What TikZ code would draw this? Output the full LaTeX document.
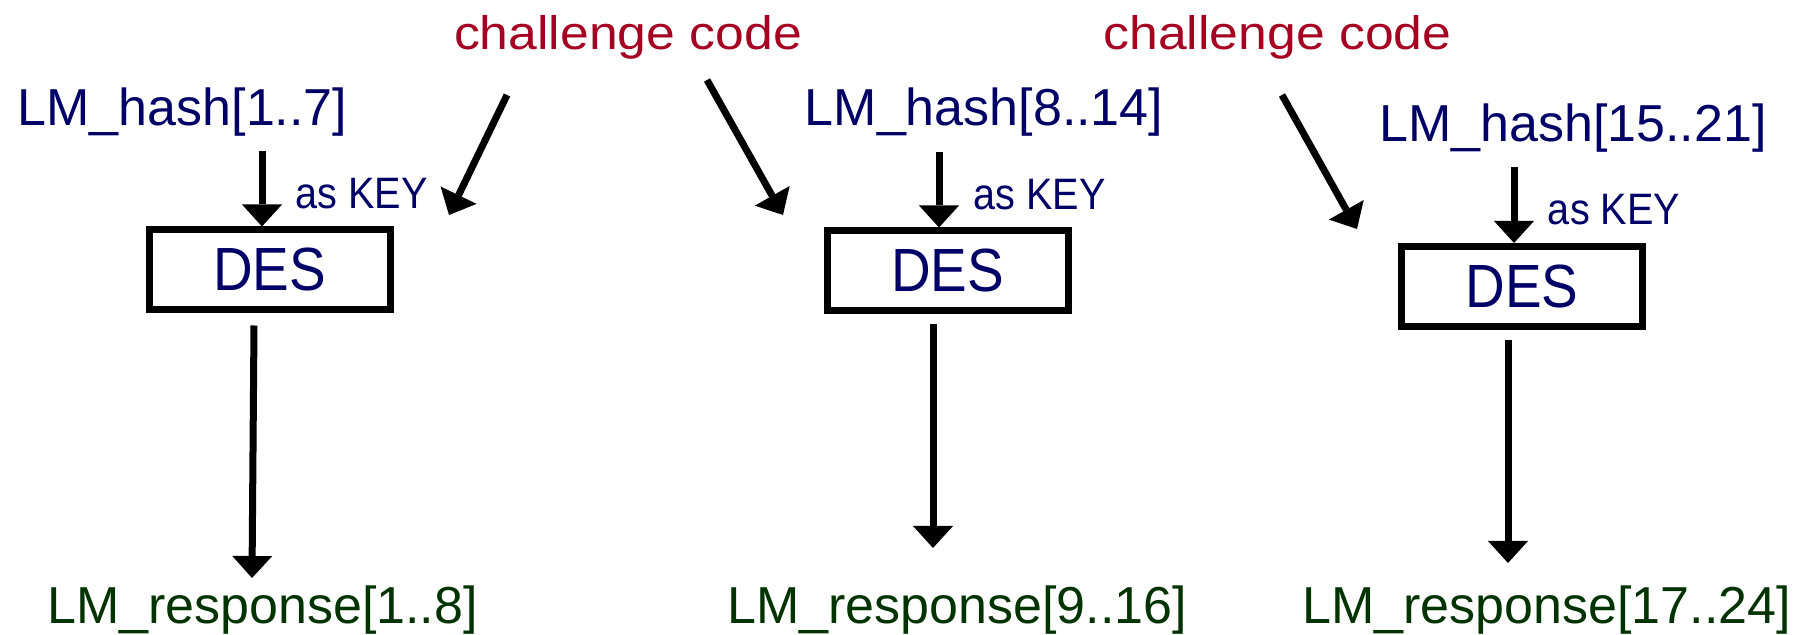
\documentclass[tikz,border=0pt]{standalone}
\usepackage{fontspec}
\setmainfont{Liberation Sans}
\newfontfamily\widefont[FakeStretch=1.1]{Liberation Sans}
\newfontfamily\narrowfont[FakeStretch=0.9]{Liberation Sans}
\usepackage{xcolor}
\usepackage{tikz}
\usetikzlibrary{arrows.meta,calc}
\definecolor{keyblue}{RGB}{0,0,102}
\definecolor{chalred}{RGB}{165,0,33}
\definecolor{respgreen}{RGB}{0,51,0}
\tikzset{
  hashtext/.style={anchor=base,inner sep=0pt,text=keyblue,font=\fontsize{26}{30}\selectfont},
  resptext/.style={anchor=base,inner sep=0pt,text=respgreen,font=\fontsize{26}{30}\selectfont},
  chaltext/.style={anchor=base,inner sep=0pt,text=chalred,font=\widefont\fontsize{23.5}{28}\selectfont},
  keytext/.style={anchor=base,inner sep=0pt,text=keyblue,font=\narrowfont\fontsize{22}{25}\selectfont},
  desbox/.style={draw,line width=3.5pt,minimum width=120.5pt,minimum height=40pt,inner sep=0pt,
    text=keyblue,font=\narrowfont\fontsize{30.5}{34}\selectfont},
  arr/.style={line width=3.5pt,-{Triangle[width=20pt,length=11pt,line width=0pt]}}
}

\begin{document}
\begin{tikzpicture}[x=0.5pt,y=-0.5pt]
    \useasboundingbox (0,0) rectangle (1809,635);

    \node [chaltext] (chal1) at (628,50) {challenge code};
    \node [chaltext] (chal2) at (1277.5,50) {challenge code};

    \node [hashtext] (hash1) at (182.5,126) {LM\_hash[1..7]};
    \node [hashtext] (hash2) at (984,126) {LM\_hash[8..14]};
    \node [hashtext] (hash3) at (1573,142) {LM\_hash[15..21]};

    \node [desbox] (des1) at (269.5,270) {DES};
    \node [desbox] (des2) at (947.5,271) {DES};
    \node [desbox] (des3) at (1522,286.5) {DES};

    \node [keytext] (key1) at ($(des1.north)+(92,-18)$) {as KEY};
    \node [keytext] (key2) at ($(des2.north)+(92,-18)$) {as KEY};
    \node [keytext] (key3) at ($(des3.north)+(92,-18)$) {as KEY};

    \node [resptext] (resp1) at (262.5,623) {LM\_response[1..8]};
    \node [resptext] (resp2) at (957,623) {LM\_response[9..16]};
    \node [resptext] (resp3) at (1546.5,623) {LM\_response[17..24]};

    \coordinate (k1) at (262,151);
    \coordinate (k2) at (939,152);
    \coordinate (k3) at (1514,167);
    \draw [arr] (k1) -- (k1 |- des1.north);
    \draw [arr] (k2) -- (k2 |- des2.north);
    \draw [arr] (k3) -- (k3 |- des3.north);

    \coordinate (c1) at (507,95);
    \coordinate (t1) at (449,215);
    \coordinate (c2) at (707,80);
    \coordinate (t2) at (783,215);
    \coordinate (c3) at (1282,95);
    \coordinate (t3) at (1357,229);
    \draw [arr] (c1) -- (t1);
    \draw [arr] (c2) -- (t2);
    \draw [arr] (c3) -- (t3);

    \coordinate (o1) at (252,578);
    \coordinate (o2) at (933,548);
    \coordinate (o3) at (1508,563);
    \draw [arr] ($(des1.south)+(-15.5,12)$) -- (o1);
    \draw [arr] ($(des2.south)+(-14.5,10)$) -- (o2);
    \draw [arr] ($(des3.south)+(-14,10)$) -- (o3);
\end{tikzpicture}
\end{document}
